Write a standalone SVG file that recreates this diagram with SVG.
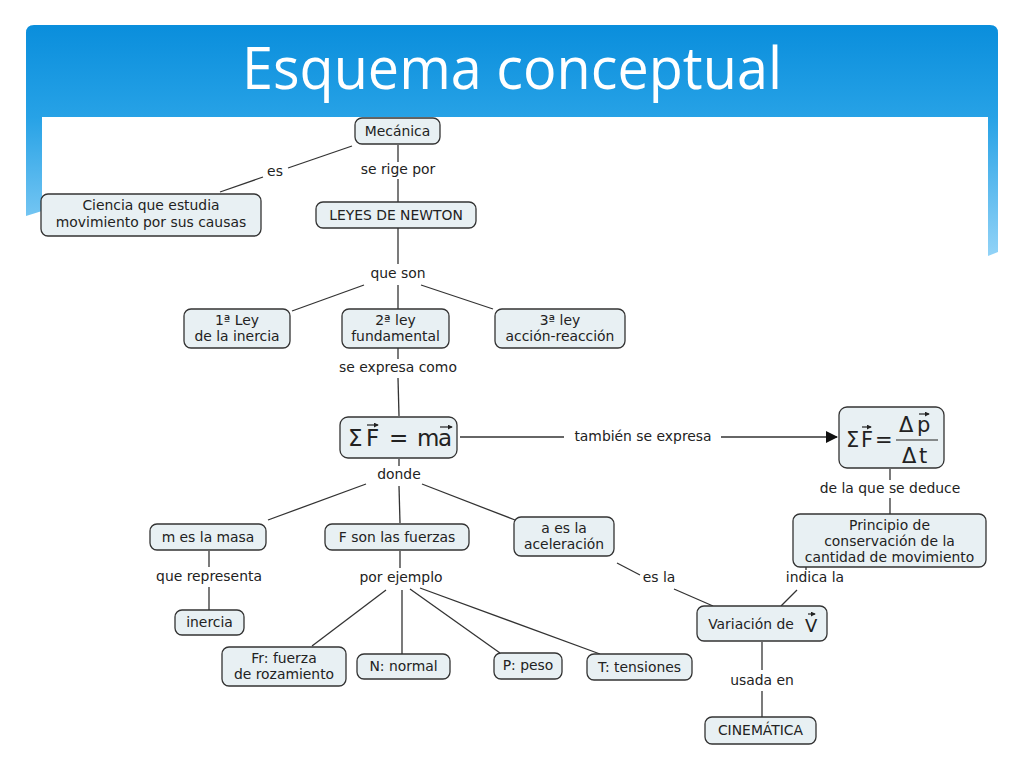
<svg xmlns="http://www.w3.org/2000/svg" width="1024" height="768" viewBox="0 0 1024 768">
<defs>
<linearGradient id="hdr" x1="0" y1="25" x2="0" y2="256" gradientUnits="userSpaceOnUse">
<stop offset="0" stop-color="#0a8edc"/>
<stop offset="0.4" stop-color="#27a2e6"/>
<stop offset="1" stop-color="#92d3f7"/>
</linearGradient>
<marker id="arr" viewBox="0 0 12 12" refX="11" refY="6" markerWidth="12" markerHeight="12" markerUnits="userSpaceOnUse" orient="auto">
<path d="M0,0 L12,6 L0,12 Z" fill="#111"/>
</marker>
<marker id="va" viewBox="0 0 6 6" refX="5" refY="3" markerWidth="5" markerHeight="5" markerUnits="userSpaceOnUse" orient="auto">
<path d="M0,0 L6,3 L0,6 Z" fill="#222"/>
</marker>
</defs>
<style>
.n rect{fill:#e8f0f3;stroke:#333;stroke-width:1.3}
.t{font-family:"DejaVu Sans",Verdana,sans-serif;font-size:13.9px;fill:#222;text-anchor:middle}
.f{font-family:"DejaVu Sans",Verdana,sans-serif;fill:#222}
.c line{stroke:#333;stroke-width:1.3}
.vec{stroke:#222;stroke-width:1.2;fill:none}
</style>
<rect width="1024" height="768" fill="#fff"/>
<path d="M26,33 Q26,25 34,25 L990,25 Q998,25 998,33 L998,252 L988,256 L988,117 L42,117 L42,211 L26,216 Z" fill="url(#hdr)"/>
<text x="512" y="89" font-family="'Open Sans',sans-serif" font-size="58" fill="#fff" text-anchor="middle" textLength="540" lengthAdjust="spacingAndGlyphs">Esquema conceptual</text>

<g id="connectors" class="c">
<line x1="352" y1="146" x2="288" y2="168"/>
<line x1="263" y1="177" x2="220" y2="192"/>
<text class="t" x="275" y="176">es</text>
<line x1="398" y1="145" x2="398" y2="162"/>
<line x1="398" y1="179" x2="398" y2="202"/>
<text class="t" x="398" y="174">se rige por</text>
<line x1="398" y1="228" x2="398" y2="264"/>
<text class="t" x="398" y="278">que son</text>
<line x1="364" y1="285" x2="292" y2="311"/>
<line x1="398" y1="285" x2="398" y2="309"/>
<line x1="421" y1="285" x2="493" y2="309"/>
<line x1="398" y1="348" x2="398" y2="359"/>
<text class="t" x="398" y="372">se expresa como</text>
<line x1="398" y1="378" x2="399" y2="416"/>
<line x1="460" y1="437" x2="564" y2="437"/>
<text class="t" x="643" y="441">también se expresa</text>
<line x1="721" y1="437" x2="837" y2="437" marker-end="url(#arr)"/>
<line x1="399" y1="459" x2="399" y2="466"/>
<text class="t" x="399" y="479">donde</text>
<line x1="366" y1="484" x2="268" y2="520"/>
<line x1="399" y1="486" x2="400" y2="523"/>
<line x1="422" y1="484" x2="515" y2="520"/>
<line x1="209" y1="551" x2="209" y2="567"/>
<text class="t" x="209" y="581">que representa</text>
<line x1="209" y1="587" x2="209" y2="610"/>
<line x1="400" y1="551" x2="400" y2="568"/>
<text class="t" x="401" y="582">por ejemplo</text>
<line x1="386" y1="590" x2="312" y2="646"/>
<line x1="402" y1="590" x2="402" y2="654"/>
<line x1="410" y1="589" x2="500" y2="653"/>
<line x1="420" y1="588" x2="600" y2="654"/>
<line x1="617" y1="563" x2="640" y2="575"/>
<text class="t" x="659" y="582">es la</text>
<line x1="674" y1="589" x2="713" y2="606"/>
<line x1="890" y1="469" x2="890" y2="480"/>
<text class="t" x="890" y="493">de la que se deduce</text>
<line x1="890" y1="498" x2="890" y2="514"/>
<line x1="806" y1="567" x2="806" y2="570"/>
<text class="t" x="815" y="582">indica la</text>
<line x1="797" y1="590" x2="781" y2="606"/>
<line x1="762" y1="642" x2="762" y2="670"/>
<text class="t" x="762" y="685">usada en</text>
<line x1="762" y1="691" x2="762" y2="717"/>
</g>

<g id="mecanica" class="n"><rect x="355" y="118" width="85" height="26" rx="7"/><text class="t" x="397.5" y="136">Mecánica</text></g>
<g id="ciencia" class="n"><rect x="41" y="194" width="220" height="42" rx="7"/><text class="t" x="151" y="210">Ciencia que estudia</text><text class="t" x="151" y="227">movimiento por sus causas</text></g>
<g id="leyes" class="n"><rect x="316" y="202" width="160" height="26" rx="7"/><text class="t" x="396" y="220">LEYES DE NEWTON</text></g>
<g id="ley1" class="n"><rect x="184" y="309" width="106" height="39" rx="7"/><text class="t" x="237" y="325">1ª Ley</text><text class="t" x="237" y="341">de la inercia</text></g>
<g id="ley2" class="n"><rect x="342" y="309" width="107" height="39" rx="7"/><text class="t" x="395.5" y="325">2ª ley</text><text class="t" x="395.5" y="341">fundamental</text></g>
<g id="ley3" class="n"><rect x="495" y="309" width="130" height="39" rx="7"/><text class="t" x="560" y="325">3ª ley</text><text class="t" x="560" y="341">acción-reacción</text></g>

<g id="fma" class="n"><rect x="340" y="417" width="117" height="41" rx="8"/>
<text class="f" font-size="23" y="446"><tspan x="348">Σ</tspan><tspan x="366">F</tspan><tspan x="389">=</tspan><tspan x="417">m</tspan><tspan x="438">a</tspan></text>
<path class="vec" d="M367,425 L378,425" marker-end="url(#va)"/>
<path class="vec" d="M440,427 L452,427" marker-end="url(#va)"/>
</g>

<g id="fdp" class="n"><rect x="839" y="407" width="105" height="61" rx="8"/>
<text class="f" font-size="21" y="447"><tspan x="846">Σ</tspan><tspan x="861">F</tspan><tspan x="875">=</tspan></text>
<line x1="896" y1="440" x2="938" y2="440" stroke="#222" stroke-width="1.2"/>
<text class="f" font-size="21" y="432"><tspan x="899">Δ</tspan><tspan x="917">p</tspan></text>
<text class="f" font-size="21" y="463"><tspan x="902">Δ</tspan><tspan x="919">t</tspan></text>
<path class="vec" d="M862,427 L871,427" marker-end="url(#va)"/>
<path class="vec" d="M919,414 L929,414" marker-end="url(#va)"/>
</g>

<g id="masa" class="n"><rect x="150" y="524" width="116" height="26" rx="7"/><text class="t" x="208" y="542">m es la masa</text></g>
<g id="fuerzas" class="n"><rect x="325" y="524" width="144" height="26" rx="7"/><text class="t" x="397" y="542">F son las fuerzas</text></g>
<g id="acel" class="n"><rect x="514" y="517" width="100" height="39" rx="7"/><text class="t" x="564" y="533">a es la</text><text class="t" x="564" y="549">aceleración</text></g>
<g id="principio" class="n"><rect x="793" y="514" width="193" height="53" rx="7"/><text class="t" x="889.5" y="530">Principio de</text><text class="t" x="889.5" y="546">conservación de la</text><text class="t" x="889.5" y="562">cantidad de movimiento</text></g>
<g id="inercia" class="n"><rect x="175" y="610" width="69" height="25" rx="7"/><text class="t" x="209.5" y="627">inercia</text></g>
<g id="fr" class="n"><rect x="222" y="647" width="124" height="39" rx="7"/><text class="t" x="284" y="663">Fr: fuerza</text><text class="t" x="284" y="679">de rozamiento</text></g>
<g id="normal" class="n"><rect x="357" y="654" width="93" height="25" rx="7"/><text class="t" x="403.5" y="671">N: normal</text></g>
<g id="peso" class="n"><rect x="494" y="653" width="68" height="26" rx="7"/><text class="t" x="528" y="670">P: peso</text></g>
<g id="tensiones" class="n"><rect x="587" y="654" width="105" height="26" rx="7"/><text class="t" x="639.5" y="672">T: tensiones</text></g>
<g id="variacion" class="n"><rect x="697" y="606" width="130" height="35" rx="7"/><text class="t" x="751" y="629">Variación de</text>
<text class="f" font-size="18" x="805" y="632">V</text>
<path class="vec" d="M808,614 L815,614" marker-end="url(#va)"/>
</g>
<g id="cinematica" class="n"><rect x="705" y="717" width="111" height="27" rx="7"/><text class="t" x="760.5" y="735">CINEMÁTICA</text></g>
</svg>
